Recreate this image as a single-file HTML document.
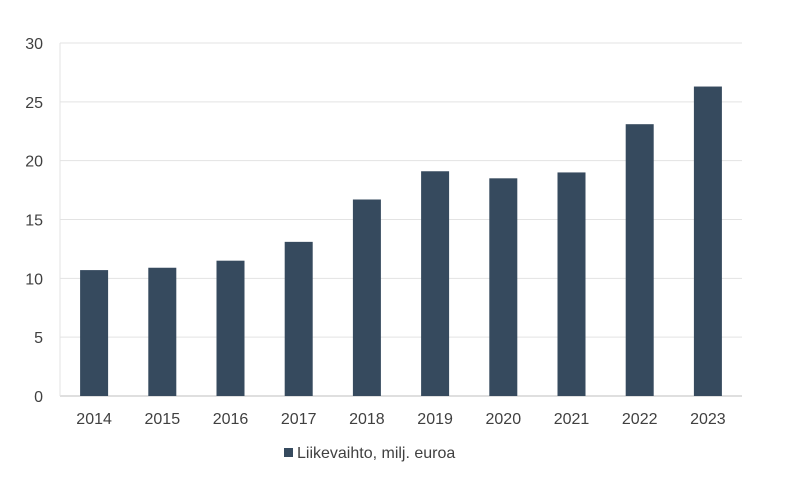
<!DOCTYPE html>
<html><head><meta charset="utf-8"><style>
body{margin:0;background:#fff;}
svg{display:block;font-family:"Liberation Sans",Arial,sans-serif;}
</style></head><body>
<svg id="chart" width="800" height="478" viewBox="0 0 800 478">
<g id="grid"></g>
<g id="yticks"></g>
<g id="bars"></g>
<g id="xticks"></g>
<g>
<rect x="284" y="448" width="9" height="9" fill="#364a5e"/>
<text x="297" y="458" font-size="16" fill="#404040">Liikevaihto, milj. euroa</text>
</g>
</svg>
<script>
const categories=["2014","2015","2016","2017","2018","2019","2020","2021","2022","2023"];
const values=[10.7,10.9,11.5,13.1,16.7,19.1,18.5,19.0,23.1,26.3];
const yTicks=[0,5,10,15,20,25,30];
const NS="http://www.w3.org/2000/svg";
const x0=60,x1=742,yB=396,yT=43,yMax=30;
const band=(x1-x0)/categories.length,barW=28;
const y=v=>yB-(v/yMax)*(yB-yT);
const xc=i=>x0+band*(i+0.5);
function mk(t,a,p){const e=document.createElementNS(NS,t);for(const k in a)e.setAttribute(k,a[k]);p.appendChild(e);return e;}
const g=document.getElementById('grid'),yt=document.getElementById('yticks'),b=document.getElementById('bars'),xt=document.getElementById('xticks');
yTicks.forEach(v=>{
 const l=mk('line',{x1:x0,x2:x1,y1:y(v),y2:y(v),stroke:v===0?'#bfbfbf':'#e3e3e3','stroke-width':1},g);
 
 
 const t=mk('text',{x:43,y:y(v)+6,'text-anchor':'end','font-size':16,fill:'#404040'},yt);
 t.textContent=v;
 
 
});
const ax=mk('line',{x1:x0,x2:x0,y1:yT,y2:yB,stroke:'#e3e3e3'},g);


categories.forEach((c,i)=>{
 const r=mk('rect',{x:xc(i)-barW/2,y:y(values[i]),width:barW,height:yB-y(values[i]),fill:'#364a5e'},b);
 
 
 const t=mk('text',{x:xc(i),y:424,'text-anchor':'middle','font-size':16,fill:'#404040'},xt);
 t.textContent=c;
 
 
});
</script>
</body></html>
